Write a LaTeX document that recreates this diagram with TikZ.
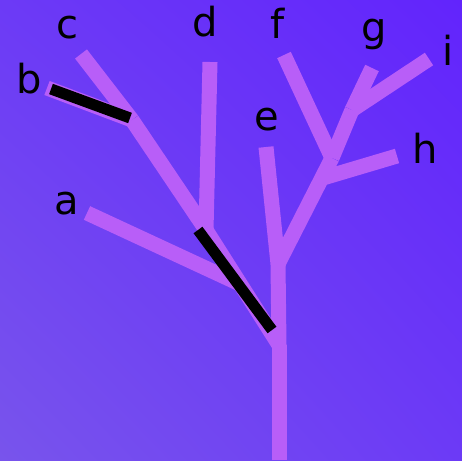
\documentclass[tikz,border=0pt]{standalone}
\usepackage{fontspec}
\setmainfont{DejaVu Sans}
\usetikzlibrary{shadings}
\definecolor{bgbl}{RGB}{120,84,236}
\definecolor{bgtr}{RGB}{98,36,252}
\definecolor{bgmid}{RGB}{108,58,246}
\definecolor{twig}{RGB}{184,94,248}
\begin{document}
\begin{tikzpicture}[x=1pt, y=-1pt,
    branch/.style={line width=15pt, draw=twig},
    hilite/.style={line width=11pt, draw=black},
    leaflabel/.style={inner sep=0pt, font=\fontsize{40}{40}\selectfont}]
  \shade[lower left=bgbl, upper right=bgtr, upper left=bgmid, lower right=bgmid]
    (0,0) rectangle (462,460);
  \useasboundingbox (0,0) rectangle (462,460);
  % junctions and tips
  \coordinate (base) at (279,460);
  \coordinate (R) at (279,345);
  \coordinate (X) at (240,284);
  \coordinate (Y) at (206,230);
  \coordinate (Z) at (132,120);
  \coordinate (E) at (278,264);
  \coordinate (F) at (332,158);
  \coordinate (H) at (323,178);
  \coordinate (G) at (352,110);
  \coordinate (tipa) at (87,213);
  \coordinate (tipb) at (47,88);
  \coordinate (tipc) at (81,54);
  \coordinate (tipd) at (210,62);
  \coordinate (tipe) at (266,147);
  \coordinate (tipf) at (284,55);
  \coordinate (tipg) at (372,68);
  \coordinate (tiph) at (397,156);
  \coordinate (tipi) at (429,59);
  % tree
  \draw[branch] (base) -- (R);
  \draw[branch] (R) -- (Y);
  \draw[branch] (X) -- (tipa);
  \draw[branch] (Y) -- (tipd);
  \draw[branch] (Y) -- (Z);
  \draw[branch] (Z) -- (tipb);
  \draw[branch] (Z) -- (tipc);
  \draw[branch] (R) -- (E);
  \draw[branch] (E) -- (tipe);
  \draw[branch] (E) -- (F);
  \draw[branch] (F) -- (tipf);
  \draw[branch] (H) -- (tiph);
  \draw[branch] (F) -- (G);
  \draw[branch] (G) -- (tipg);
  \draw[branch] (G) -- (tipi);
  % highlighted edges
  \coordinate (barbl) at (51,89);
  \coordinate (barbr) at (130,118);
  \coordinate (barrt) at (198,230);
  \coordinate (barrb) at (272,330);
  \draw[hilite] (barbl) -- (barbr);
  \draw[hilite] (barrt) -- (barrb);
  % labels
  \node[leaflabel] (a) at (67,204) {a};
  \node[leaflabel] (b) at (29,79) {b};
  \node[leaflabel] (c) at (67,28) {c};
  \node[leaflabel] (d) at (205,22) {d};
  \node[leaflabel] (e) at (267,120) {e};
  \node[leaflabel] (f) at (278,23) {f};
  \node[leaflabel] (g) at (374,34) {g};
  \node[leaflabel] (h) at (425,148) {h};
  \node[leaflabel] (i) at (448,50) {i};
\end{tikzpicture}
\end{document}
